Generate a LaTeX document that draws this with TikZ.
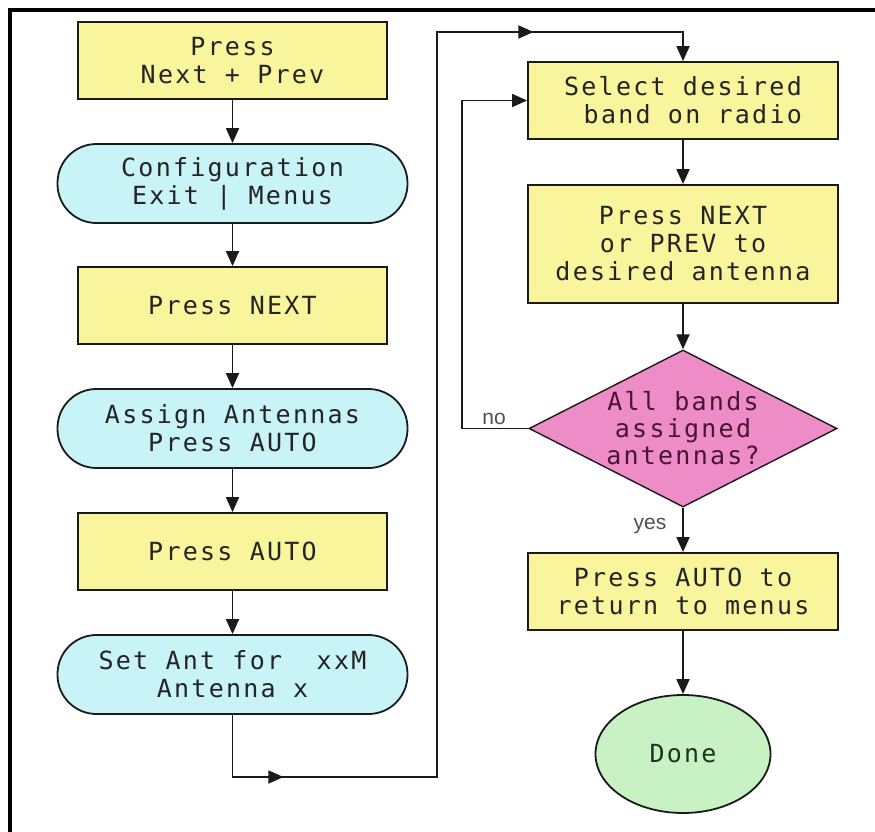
\documentclass[tikz,border=0pt]{standalone}
\usepackage{fontspec}
\newfontfamily\boxfont{DejaVu Sans Mono}[LetterSpace=9.0]
\newfontfamily\lblfont{Liberation Sans}
\usetikzlibrary{arrows.meta,decorations.markings,shapes.geometric}
\definecolor{yel}{HTML}{F9F59C}
\definecolor{cyanf}{HTML}{C8F4F8}
\definecolor{pinkf}{HTML}{EE8CC8}
\definecolor{greenf}{HTML}{C9F2C4}
\definecolor{linec}{HTML}{1A1A1A}
\definecolor{textc}{HTML}{242424}
\definecolor{dectextc}{HTML}{4A1535}
\definecolor{donetextc}{HTML}{1C3320}
\definecolor{lblc}{HTML}{505050}
\tikzset{
  flowtip/.tip={Triangle[length=15pt,width=13pt]},
  basenode/.style={draw=linec, line width=1.8pt, inner sep=0pt, align=center,
    font=\boxfont\fontsize{25}{28}\selectfont, text=textc},
  ybox/.style={basenode, rectangle, fill=yel, minimum width=309pt, minimum height=77pt},
  rbox/.style={basenode, rectangle, fill=yel, minimum width=310pt, minimum height=77pt},
  term/.style={basenode, rectangle, rounded corners=39pt, fill=cyanf, minimum width=350pt, minimum height=79pt},
  decision/.style={draw=linec, line width=1.4pt, diamond, fill=pinkf, inner sep=0pt, minimum width=308pt, minimum height=157pt},
  dectext/.style={inner sep=0pt, align=center, font=\boxfont\fontsize{25}{27}\selectfont, text=dectextc},
  donenode/.style={basenode, ellipse, fill=greenf, text=donetextc, minimum width=175pt, minimum height=118pt},
  flow/.style={draw=linec, line width=1.8pt, -flowtip},
  lbl/.style={inner sep=0pt, font=\lblfont\fontsize{21}{24}\selectfont, text=lblc, anchor=base},
  frameline/.style={draw=black, line width=4pt}
}
\begin{document}
\begin{tikzpicture}[x=1pt,y=-1pt]
\useasboundingbox (0,0) rectangle (875,832);
\fill[white] (0,0) rectangle (875,832);
\draw[frameline] (10,834) -- (10,10) -- (877,10);

% left column
\node[ybox] (b1) at (232.5,60.5) {Press\\Next + Prev};
\node[term] (s1) at (232.5,183.5) {Configuration\\Exit | Menus};
\node[ybox] (b2) at (232.5,305.5) {Press NEXT};
\node[term] (s2) at (232.5,428.5) {Assign Antennas\\Press AUTO};
\node[ybox] (b3) at (232.5,551.5) {Press AUTO};
\node[term] (s3) at (232.5,674.5) {Set Ant for\ \ xxM\\Antenna x};

% right column
\node[rbox, align=right] (sel) at (683,100.5) {Select desired\\band on radio};
\node[rbox, minimum height=118pt] (nxt) at (683,244) {Press NEXT\\or PREV to\\desired antenna};
\node[decision] (dec) at (683,428.5) {};
\node[dectext] (dect) at (dec.center) {All bands\\assigned\\antennas?};
\node[rbox] (ret) at (683,591.5) {Press AUTO to\\return to menus};
\node[donenode] (done) at (683,754) {Done};

% connectors
\draw[flow] (b1) -- (s1);
\draw[flow] (s1) -- (b2);
\draw[flow] (b2) -- (s2);
\draw[flow] (s2) -- (b3);
\draw[flow] (b3) -- (s3);
\draw[flow] (sel) -- (nxt);
\draw[flow] (nxt) -- (dec);
\draw[flow] (dec) -- (ret);
\draw[flow] (ret) -- (done);

\coordinate (lb) at (437,777);
\coordinate (lt) at (437,32);
\draw[flow, postaction={decorate}, decoration={markings,
    mark=at position 113pt with {\arrow{flowtip}},
    mark=at position 1108pt with {\arrow{flowtip}}}]
  (s3.south) |- (lb) -- (lt) -| (sel.north);

\coordinate (nox) at (462,0);
\draw[flow] (dec.west) -- (dec.west -| nox) |- (sel.west);

\node[lbl] (nolbl) at (494,424) {no};
\node[lbl] (yeslbl) at (650,529) {yes};
\end{tikzpicture}
\end{document}
